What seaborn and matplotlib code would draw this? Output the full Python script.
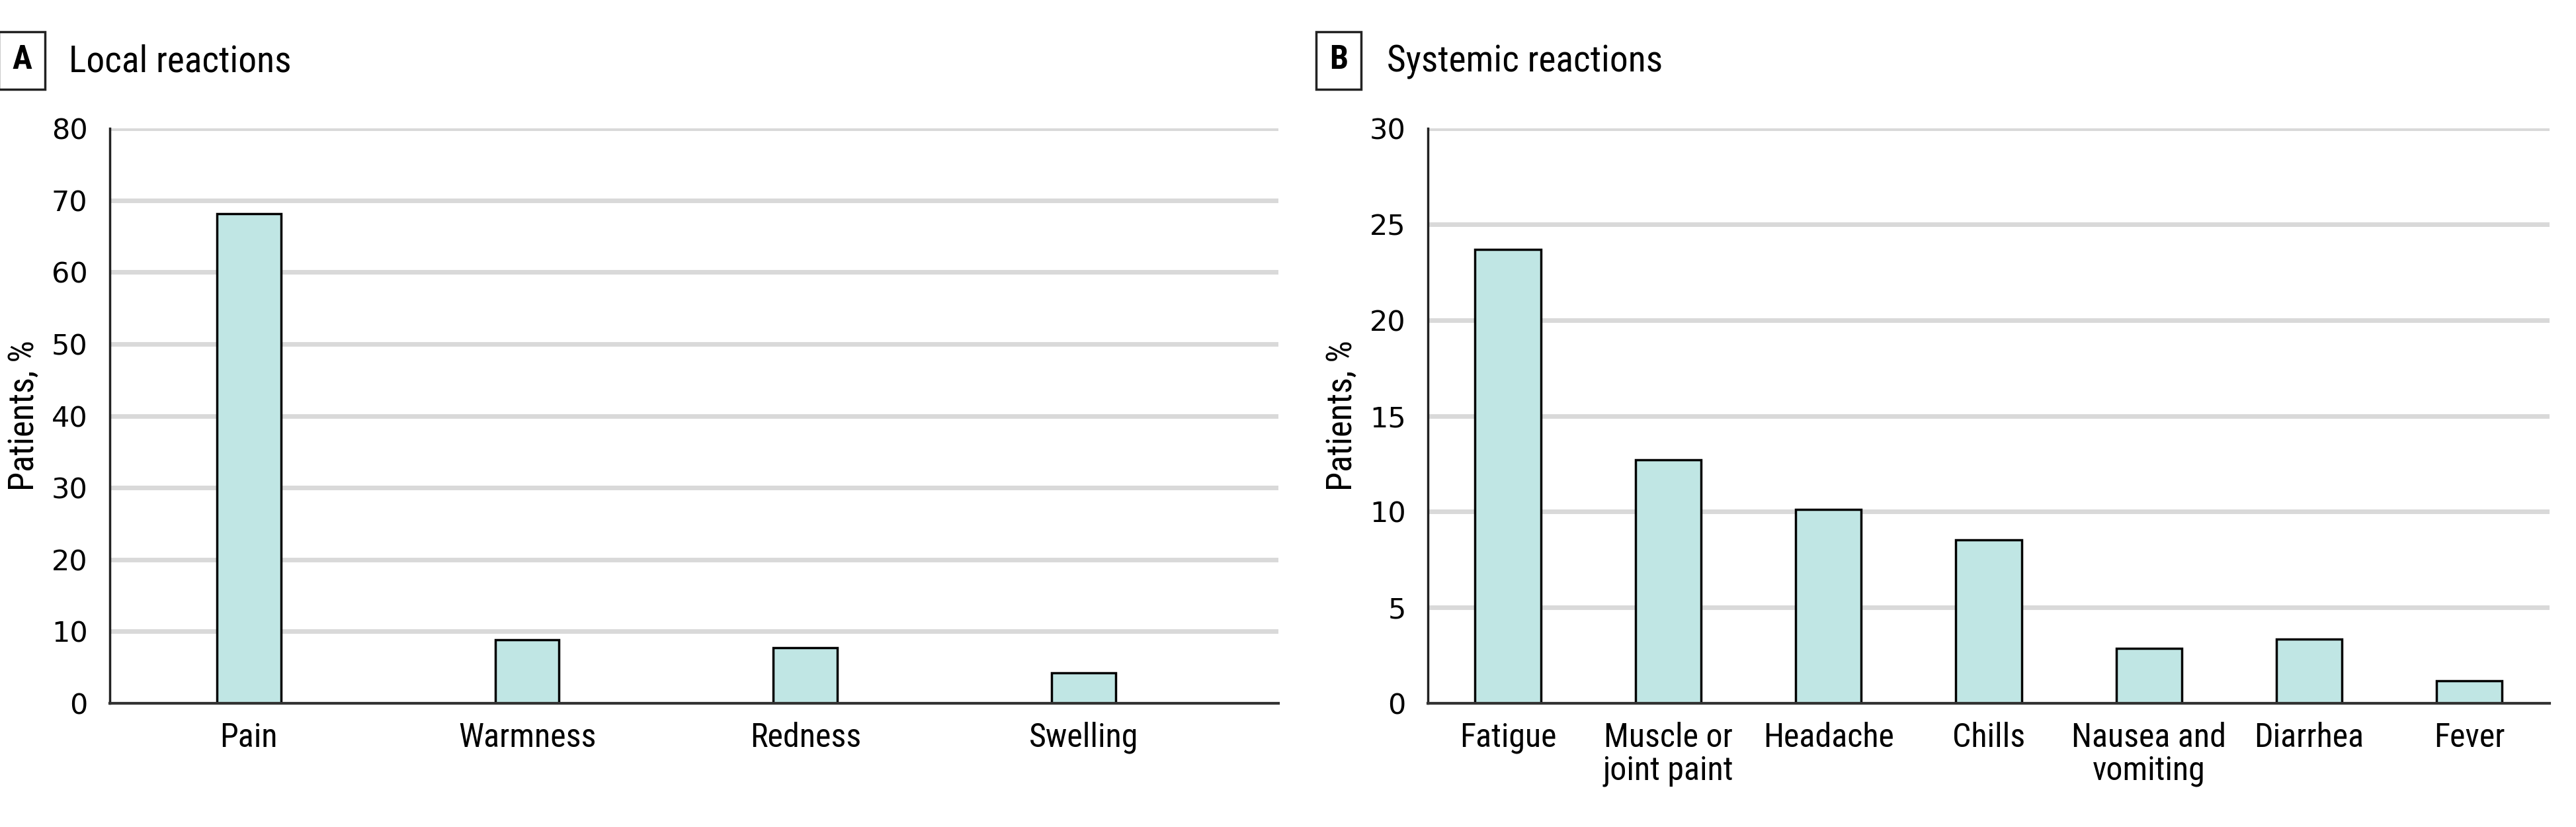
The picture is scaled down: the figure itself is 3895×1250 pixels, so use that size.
import matplotlib
matplotlib.use('Agg')
import matplotlib.pyplot as plt
import seaborn as sns
from matplotlib import font_manager
from matplotlib.font_manager import FontProperties

# Data
local_cats = ['Pain', 'Warmness', 'Redness', 'Swelling']
local_vals = [68.1, 8.85, 7.75, 4.25]

sys_cats = ['Fatigue', 'Muscle or\njoint paint', 'Headache', 'Chills',
            'Nausea and\nvomiting', 'Diarrhea', 'Fever']
sys_vals = [23.67, 12.71, 10.12, 8.54, 2.86, 3.36, 1.16]

local_ticks = [0, 10, 20, 30, 40, 50, 60, 70, 80]
sys_ticks = [0, 5, 10, 15, 20, 25, 30]

BAR_COLOR = '#c0e6e4'
GRID_COLOR = '#d9d9d9'

sns.set_style('white')
plt.rcParams['text.color'] = 'black'
plt.rcParams['xtick.color'] = 'black'
plt.rcParams['ytick.color'] = 'black'
plt.rcParams['axes.labelcolor'] = 'black'


# look for a narrow / condensed font file, the original uses one
def find_font(keys):
    files = [f.fname for f in font_manager.fontManager.ttflist]
    for key in keys:
        for fn in files:
            if fn.split('/')[-1].lower() == key.lower():
                return fn
    return None


reg = find_font(['LiberationSansNarrow-Regular.ttf', 'RobotoCondensed-Regular.ttf',
                 'OpenSans_Condensed-Regular.ttf', 'DejaVuSansCondensed.ttf'])
bold = find_font(['LiberationSansNarrow-Bold.ttf', 'RobotoCondensed-Bold.ttf',
                  'OpenSans_Condensed-Bold.ttf', 'DejaVuSansCondensed-Bold.ttf'])


def lab_font(size, weight='normal'):
    fn = bold if weight == 'bold' else reg
    if fn:
        return FontProperties(fname=fn, size=size)
    return FontProperties(family='DejaVu Sans', stretch='condensed', weight=weight, size=size)


NUM_FONT = FontProperties(family='DejaVu Sans', size=31)

fig = plt.figure(figsize=(38.95, 12.5), dpi=100)
ax_a = fig.add_axes([0.0426, 0.1496, 0.4537, 0.6952])
ax_b = fig.add_axes([0.5543, 0.1496, 0.4354, 0.6952])


def draw_panel(ax, cats, vals, ticks, width, xmax):
    sns.barplot(x=cats, y=vals, ax=ax, color=BAR_COLOR, saturation=1,
                edgecolor='black', linewidth=2.5, width=width, zorder=3)
    ax.set_xlim(-0.5, xmax)
    ax.set_ylim(0, ticks[-1])
    ax.set_yticks(ticks)
    for t in ticks[1:]:
        ax.axhline(t, color=GRID_COLOR, lw=5, zorder=1)
    for s in ['top', 'right']:
        ax.spines[s].set_visible(False)
    ax.spines['left'].set_linewidth(2.5)
    ax.spines['left'].set_color('#222222')
    ax.spines['bottom'].set_linewidth(3)
    ax.spines['bottom'].set_color('#333333')
    ax.spines['bottom'].set_zorder(4)
    ax.tick_params(axis='y', direction='out', length=16, width=2.5,
                   color='#222222', pad=8)
    ax.tick_params(axis='x', length=0, pad=20)
    for lab in ax.get_yticklabels():
        lab.set_fontproperties(NUM_FONT)
    for lab in ax.get_xticklabels():
        lab.set_fontproperties(lab_font(36))
        lab.set_linespacing(1.05)
        lab.set_verticalalignment('top')
    ax.set_ylabel('Patients, %', fontproperties=lab_font(38), labelpad=12)
    ax.set_xlabel('')


draw_panel(ax_a, local_cats, local_vals, local_ticks, 0.23, 3.7)
draw_panel(ax_b, sys_cats, sys_vals, sys_ticks, 0.41, 6.5)


def panel_title(x_box, x_text, letter, title):
    fig.text(x_box, 1 - 91 / 1250, letter, fontproperties=lab_font(36, 'bold'),
             ha='center', va='center',
             bbox=dict(boxstyle='square,pad=0.4', fc='white', ec='#222222', lw=2.5))
    fig.text(x_text, 1 - 93 / 1250, title, fontproperties=lab_font(40),
             ha='left', va='center')


panel_title(33 / 3895, 104 / 3895, 'A', 'Local reactions')
panel_title(2024 / 3895, 2097 / 3895, 'B', 'Systemic reactions')

fig.savefig('out.png', dpi=100)
